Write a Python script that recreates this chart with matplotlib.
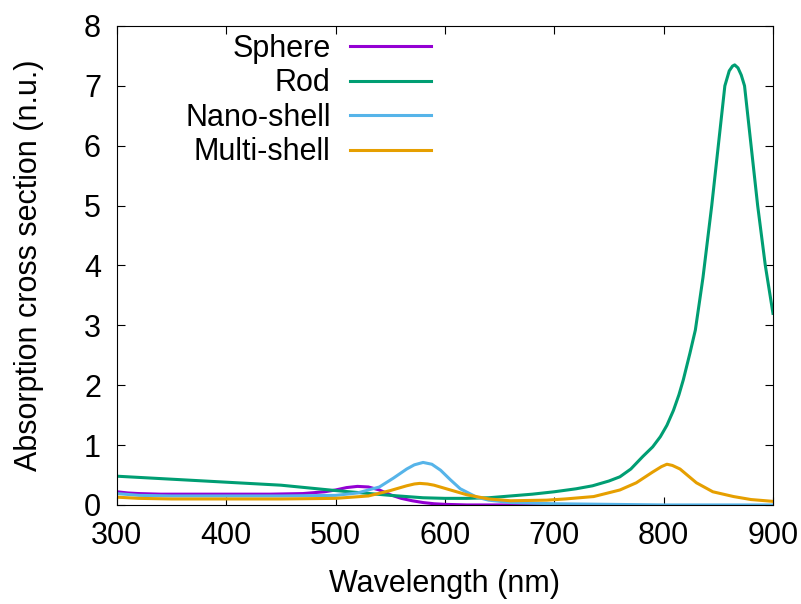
import matplotlib.pyplot as plt

# Sphere
sphere_wl = [300, 310, 320, 340, 360, 400, 440, 470, 490, 500, 510, 520, 530, 540,
             550, 560, 570, 580, 590, 600, 620, 650, 700, 760]
sphere_abs = [0.22, 0.2, 0.19, 0.18, 0.18, 0.18, 0.18, 0.19, 0.22, 0.25, 0.29, 0.31,
              0.3, 0.25, 0.17, 0.11, 0.07, 0.04, 0.02, 0.01, 0.0, 0.0, 0.0, 0.0]

# Rod
rod_wl = [300, 350, 400, 450, 500, 550, 580, 600, 620, 640, 660, 680, 700, 720, 735,
          750, 760, 770, 781, 790, 797, 803, 809, 814, 818, 824, 829, 833, 836, 840,
          844, 850, 856, 860, 863, 865, 868, 871, 874, 880, 886, 893, 900]
rod_abs = [0.48, 0.43, 0.38, 0.33, 0.24, 0.16, 0.12, 0.11, 0.11, 0.12, 0.15, 0.18,
           0.22, 0.27, 0.32, 0.4, 0.47, 0.6, 0.81, 0.97, 1.14, 1.33, 1.58, 1.84, 2.09,
           2.53, 2.92, 3.42, 3.8, 4.4, 5.0, 6.0, 7.0, 7.25, 7.33, 7.35, 7.3, 7.18, 7.0,
           6.0, 5.0, 4.0, 3.2]

# Nano-shell
nano_wl = [300, 320, 350, 400, 450, 500, 520, 540, 553, 565, 572, 580, 588, 596, 605,
           614, 629, 640, 660, 700, 750, 800, 900]
nano_abs = [0.19, 0.16, 0.15, 0.15, 0.15, 0.16, 0.2, 0.3, 0.45, 0.6, 0.67, 0.71, 0.68,
            0.58, 0.42, 0.27, 0.13, 0.08, 0.04, 0.02, 0.01, 0.0, 0.0]

# Multi-shell
multi_wl = [300, 320, 350, 400, 450, 500, 530, 550, 565, 572, 577, 584, 590, 605, 620,
            640, 660, 693, 710, 736, 760, 775, 790, 798, 803, 808, 815, 830, 845, 864,
            880, 900]
multi_abs = [0.13, 0.11, 0.1, 0.1, 0.1, 0.11, 0.15, 0.24, 0.32, 0.35, 0.36, 0.35, 0.33,
             0.25, 0.17, 0.1, 0.07, 0.08, 0.1, 0.14, 0.25, 0.37, 0.55, 0.64, 0.68, 0.66,
             0.6, 0.37, 0.22, 0.14, 0.09, 0.06]

plt.rcParams['font.family'] = ['Liberation Sans', 'DejaVu Sans']

fig = plt.figure(figsize=(8.01, 6.04), dpi=100)
ax = fig.add_axes([0.146, 0.164, 0.819, 0.793])

ax.plot(sphere_wl, sphere_abs, color='#9400d3', lw=2.2, label='Sphere')
ax.plot(rod_wl, rod_abs, color='#009e73', lw=2.2, label='Rod')
ax.plot(nano_wl, nano_abs, color='#56b4e9', lw=2.2, label='Nano-shell')
ax.plot(multi_wl, multi_abs, color='#e69f00', lw=2.2, label='Multi-shell')

ax.set_xlim(300, 900)
ax.set_ylim(0, 8)
ax.set_xticks(range(300, 901, 100))
ax.set_yticks(range(0, 9))
ax.tick_params(direction='in', top=True, right=True, length=6, labelsize=22, pad=11.5)
ax.set_xlabel('Wavelength (nm)', fontsize=22)
ax.set_ylabel('Absorption cross section (n.u.)', fontsize=22)
ax.xaxis.set_label_coords(0.5, -0.134)
ax.yaxis.set_label_coords(-0.111, 0.5)

# gnuplot style key: text right-aligned, sample after it
ax.legend(loc='upper right', bbox_to_anchor=(0.478, 0.984), markerfirst=False,
          frameon=False, fontsize=22, handlelength=2.65, handletextpad=0.62,
          labelspacing=0.15, borderpad=0, borderaxespad=0)

fig.savefig('out.png', dpi=100)
